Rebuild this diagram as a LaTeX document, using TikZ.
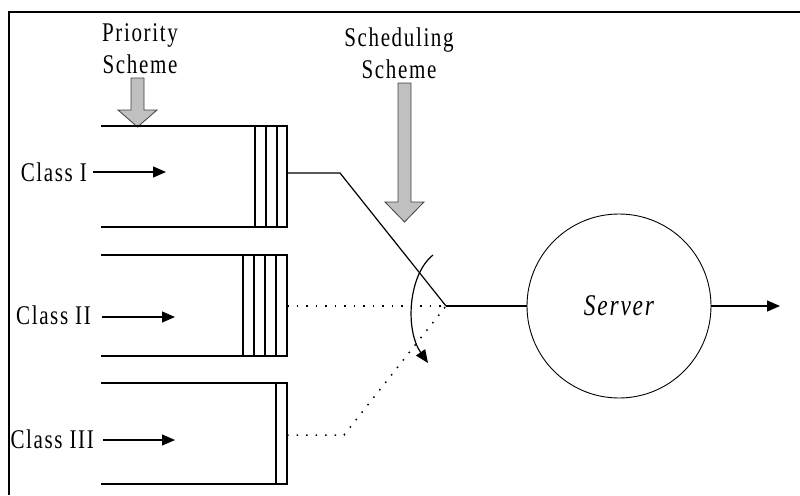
\documentclass[tikz,border=0pt]{standalone}
\usepackage{fontspec}
\setmainfont{Liberation Serif}[LetterSpace=6, FakeStretch=0.78]
\usetikzlibrary{arrows.meta}

\tikzset{
  frameline/.style={line width=2.5pt},
  queueline/.style={line width=1.3pt},
  link/.style={line width=1.2pt},
  dotlink/.style={line width=1.5pt, dash pattern=on 1.5pt off 8pt},
  feed/.style={line width=1.2pt, -{Triangle[length=13pt,width=11pt]}},
  hint/.style={fill={rgb,255:red,192;green,192;blue,192}, draw={rgb,255:red,64;green,64;blue,64}, line width=0.8pt},
  lbl/.style={inner sep=0pt, font=\fontsize{27}{32}\selectfont},
}

\begin{document}
\begin{tikzpicture}[x=1pt, y=-1pt]
\useasboundingbox (0,0) rectangle (800,495);

% frame (top and left edges only)
\draw[frameline] (9,495) -- (9,12) -- (800,12);

% scheme captions
\node[lbl, align=center] (prio) at (140,49) {Priority\\Scheme};
\node[lbl, align=center] (sched) at (399,53) {Scheduling\\Scheme};

% gray hint arrows
\draw[hint] (131,78) -- (144,78) -- (144,110) -- (157,110) -- (137.5,127)
            -- (118,110) -- (131,110) -- cycle;
\draw[hint] (398,83) -- (411,83) -- (411,202) -- (424,202) -- (404.5,222)
            -- (385,202) -- (398,202) -- cycle;

% queue I: three occupied slots
\draw[queueline] (101,126) -- (287,126) -- (287,227) -- (101,227);
\foreach \x in {255,266,277} \draw[queueline] (\x,126) -- (\x,227);
% queue II: four occupied slots
\draw[queueline] (101,255) -- (287,255) -- (287,356) -- (101,356);
\foreach \x in {243,254,265,276} \draw[queueline] (\x,255) -- (\x,356);
% queue III: one occupied slot
\draw[queueline] (101,383) -- (287,383) -- (287,484) -- (101,484);
\draw[queueline] (276,383) -- (276,484);

% class labels and arrivals
\node[lbl, anchor=east] (c1) at (87,172) {Class I};
\node[lbl, anchor=east] (c2) at (91,315) {Class II};
\node[lbl, anchor=east] (c3) at (94,439) {Class III};
\coordinate (a1) at (166,172);
\coordinate (a2) at (175,317);
\coordinate (a3) at (175,440);
\draw[feed] (c1.east) ++(6,0) coordinate (s1) (s1) -- (a1);
\draw[feed] (c2.east) ++(11,2) coordinate (s2) (s2) -- (a2);
\draw[feed] (c3.east) ++(9,1) coordinate (s3) (s3) -- (a3);

% queue heads, bends and the switch point
\coordinate (q1) at (287,173);
\coordinate (b1) at (340,173);
\coordinate (q2) at (287,306);
\coordinate (q3) at (287,435);
\coordinate (b3) at (344,435);
\coordinate (sw) at (446,306);

\draw[link] (q1) -- (b1) -- (sw);
\draw[dotlink] (q2) -- (sw);
\draw[dotlink] (q3) -- (b3) -- (sw);

% rotating selector
\coordinate (r0) at (433,255);
\coordinate (r1) at (428,363);
\draw[feed] (r0) .. controls (408,275) and (405,330) .. (r1);

% server
\node[draw, circle, line width=0.9pt, minimum size=184pt, inner sep=0pt,
      font=\fontsize{30}{34}\selectfont\itshape] (srv) at (619,306) {Server};
\coordinate (out) at (780,306);
\draw[link] (sw) -- (srv.west);
\draw[feed] (srv.east) -- (out);
\end{tikzpicture}
\end{document}
